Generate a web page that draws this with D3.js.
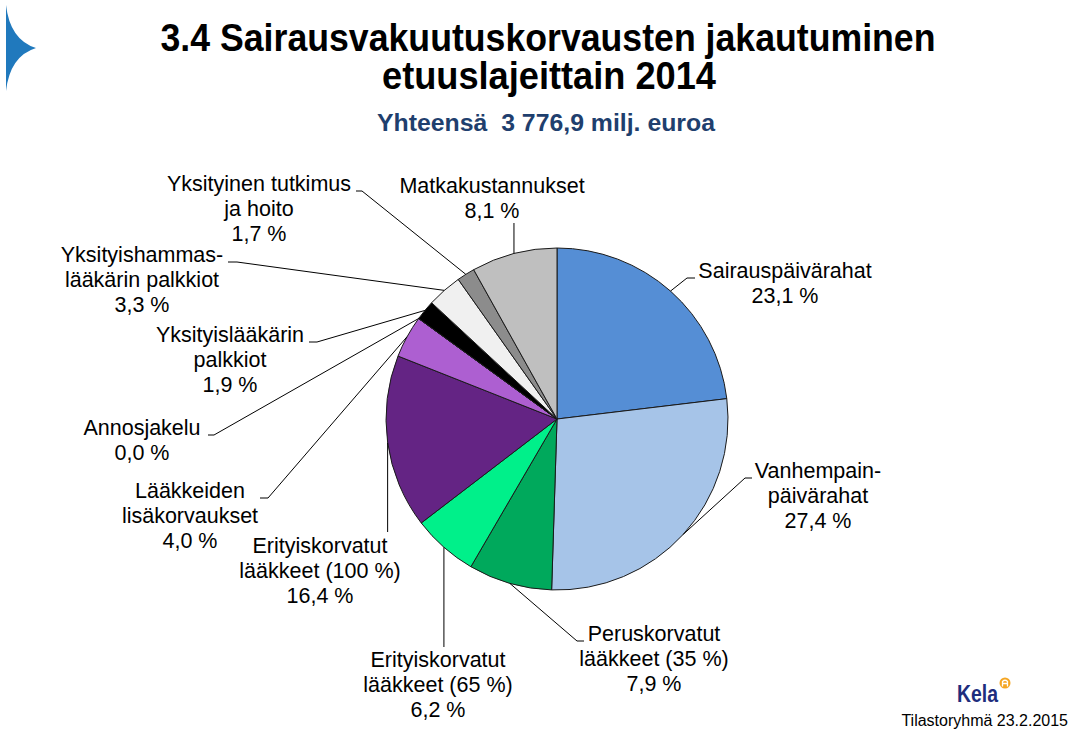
<!DOCTYPE html>
<html><head><meta charset="utf-8">
<script src="https://cdn.jsdelivr.net/npm/d3@7"></script>
<style>
html,body{margin:0;padding:0;background:#fff;}
svg{display:block;font-family:"Liberation Sans",Arial,sans-serif;}
</style></head>
<body>
<svg id="chart" width="1079" height="739"></svg>
<script>
// ---- data ----
const categories = ["Sairauspäivärahat","Vanhempainpäivärahat","Peruskorvatut lääkkeet (35 %)","Erityiskorvatut lääkkeet (65 %)","Erityiskorvatut lääkkeet (100 %)","Lääkkeiden lisäkorvaukset","Annosjakelu","Yksityislääkärin palkkiot","Yksityishammaslääkärin palkkiot","Yksityinen tutkimus ja hoito","Matkakustannukset"];
const labelLines = [["Sairauspäivärahat"],["Vanhempain-","päivärahat"],["Peruskorvatut","lääkkeet (35 %)"],["Erityiskorvatut","lääkkeet (65 %)"],["Erityiskorvatut","lääkkeet (100 %)"],["Lääkkeiden","lisäkorvaukset"],["Annosjakelu"],["Yksityislääkärin","palkkiot"],["Yksityishammas-","lääkärin palkkiot"],["Yksityinen tutkimus","ja hoito"],["Matkakustannukset"]];
const values = [23.1, 27.4, 7.9, 6.2, 16.4, 4.0, 0.0, 1.9, 3.3, 1.7, 8.1];
const colors = ["#558ED5","#A6C4E8","#00A95C","#00F08A","#642484","#AD5FD1","#7F7F7F","#000000","#F0F0F0","#8C8C8C","#BFBFBF"];
const titleLines = ["3.4 Sairausvakuutuskorvausten jakautuminen","etuuslajeittain 2014"];
const subtitle = "Yhteensä  3 776,9 milj. euroa";
const footer = "Tilastoryhmä 23.2.2015";

// ---- layout ----
const cx0 = 557, cy0 = 419, R = 171, LH = 25;
const labelLayout = [
  {x:785, y:278, pts:[[687,278],[695,278]]},
  {x:818, y:478, pts:[[745,478],[752,478]]},
  {x:654, y:641, pts:[[577,641],[584,641]]},
  {x:438, y:667, pts:[[null,647]]},
  {x:320, y:553, pts:[[null,532]]},
  {x:190, y:498, pts:[[268,498],[260,498]]},
  {x:142, y:435, pts:[[214,435],[208,435]]},
  {x:230, y:342, pts:[[317,342],[309,342]]},
  {x:142, y:262, pts:[[237,262],[228,262]]},
  {x:259, y:191, pts:[[362,191],[356,191]]},
  {x:492, y:193, pts:[[null,223]]}
];

const svg = d3.select("#chart");

// logo shape top-left
svg.append("path")
  .attr("d","M6,5 Q10,40 36,48 Q10,56 6,91 Z")
  .attr("fill","#2079BD");

// titles
const tl = [{t:titleLines[0], y:51, w:775, x:548},{t:titleLines[1], y:89, w:334, x:549}];
tl.forEach(d=>{
  svg.append("text").attr("x",d.x).attr("y",d.y).attr("text-anchor","middle")
    .attr("font-size",38).attr("font-weight","bold").attr("fill","#000")
    .attr("textLength",d.w).attr("lengthAdjust","spacingAndGlyphs").text(d.t);
});
svg.append("text").attr("x",546).attr("y",131).attr("text-anchor","middle")
  .attr("font-size",23).attr("font-weight","bold").attr("fill","#1F3F6E")
  .attr("textLength",338).attr("lengthAdjust","spacingAndGlyphs")
  .attr("xml:space","preserve").style("white-space","pre").text(subtitle);

// pie
const pie = d3.pie().sort(null).value(d=>d).startAngle(0).endAngle(2*Math.PI);
const arcs = pie(values);
const arc = d3.arc().innerRadius(0).outerRadius(R);
const edge = d3.arc().innerRadius(R).outerRadius(R);
const g = svg.append("g").attr("transform",`translate(${cx0},${cy0})`);
g.selectAll("path.slice").data(arcs).join("path").attr("class","slice")
  .attr("d",arc).attr("fill",(d,i)=>colors[i])
  .attr("stroke","#1a1a1a").attr("stroke-width",1).attr("stroke-linejoin","round");

// leaders
const fmt = v => d3.format(".1f")(v).replace(".",",") + " %";
arcs.forEach((a,i)=>{
  const c = edge.centroid(a);
  const p0 = [c[0]+cx0, c[1]+cy0];
  const pts = [p0].concat(labelLayout[i].pts.map(p=>[p[0]===null?p0[0]:p[0], p[1]]));
  svg.append("path").attr("d", d3.line()(pts)).attr("fill","none")
    .attr("stroke","#000").attr("stroke-width",1);
});

// labels
labelLayout.forEach((L,i)=>{
  const lines = labelLines[i].concat([fmt(values[i])]);
  const t = svg.append("text").attr("text-anchor","middle").attr("font-size",21.5).attr("fill","#000");
  lines.forEach((s,k)=>{
    t.append("tspan").attr("x",L.x).attr("y",L.y + k*LH).text(s);
  });
});

// Kela logo
svg.append("text").attr("x",957).attr("y",702).attr("font-size",23).attr("font-weight","bold")
  .attr("fill","#1E2D7D").attr("textLength",41).attr("lengthAdjust","spacingAndGlyphs").text("Kela");
svg.append("circle").attr("cx",1005).attr("cy",683).attr("r",5.5).attr("fill","#F5A623");
svg.append("path").attr("d","M1002.5,686.5 L1002.5,681.5 Q1005,679 1007.5,681.5 L1007.5,686.5 M1002.5,683.5 L1007.5,683.5")
  .attr("fill","none").attr("stroke","#fff").attr("stroke-width",1.3);

// footer
svg.append("text").attr("x",1068).attr("y",726).attr("text-anchor","end").attr("font-size",16)
  .attr("fill","#000").text(footer);
</script>
</body></html>
